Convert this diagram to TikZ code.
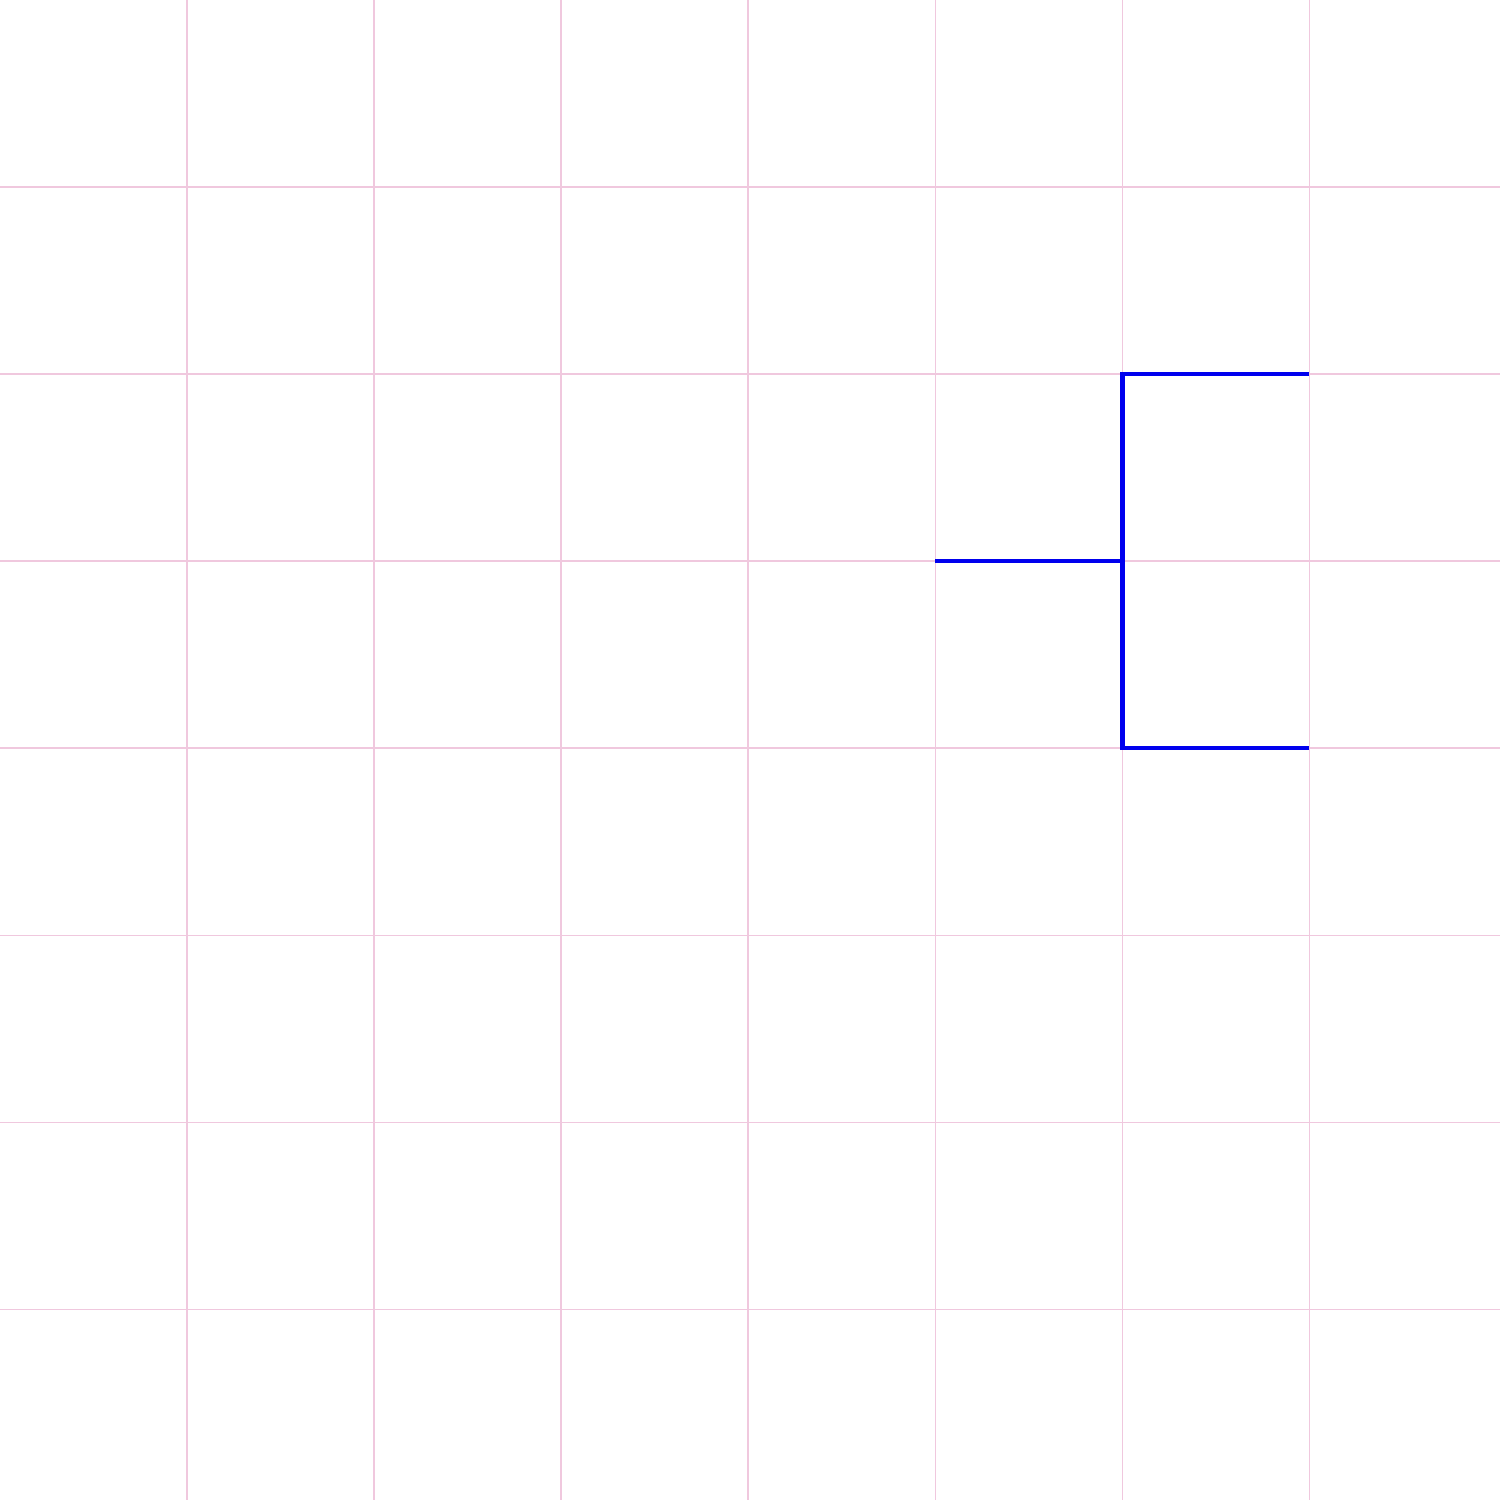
\documentclass[tikz,border=0pt]{standalone}
\usepackage{tikz}
\usetikzlibrary{positioning}
\definecolor{GP}{RGB}{240,200,222}
\definecolor{TB}{RGB}{0,0,238}

\begin{document}
\begin{tikzpicture}[
  gridline/.style={draw=GP, line width=0.2pt},
  branch/.style={draw=TB, line width=0.7pt}
]
\useasboundingbox (0,0) rectangle (8.02,-8.02);
\fill[white] (0,0) rectangle (8.02,-8.02);
\foreach \k in {1,...,7}{
  \draw[gridline] (\k,0)--(\k,-8.02);
  \draw[gridline] (0,-\k)--(8.02,-\k);
}
\coordinate (root)  at (5,-3);
\coordinate (fork)  at (6,-3);
\coordinate (up)    at (6,-2);
\coordinate (down)  at (6,-4);
\coordinate (leafA) at (7,-2);
\coordinate (leafB) at (7,-4);

\draw[branch] (root)--(fork);
\draw[branch] (leafA)--(up)--(down)--(leafB);
\end{tikzpicture}
\end{document}
